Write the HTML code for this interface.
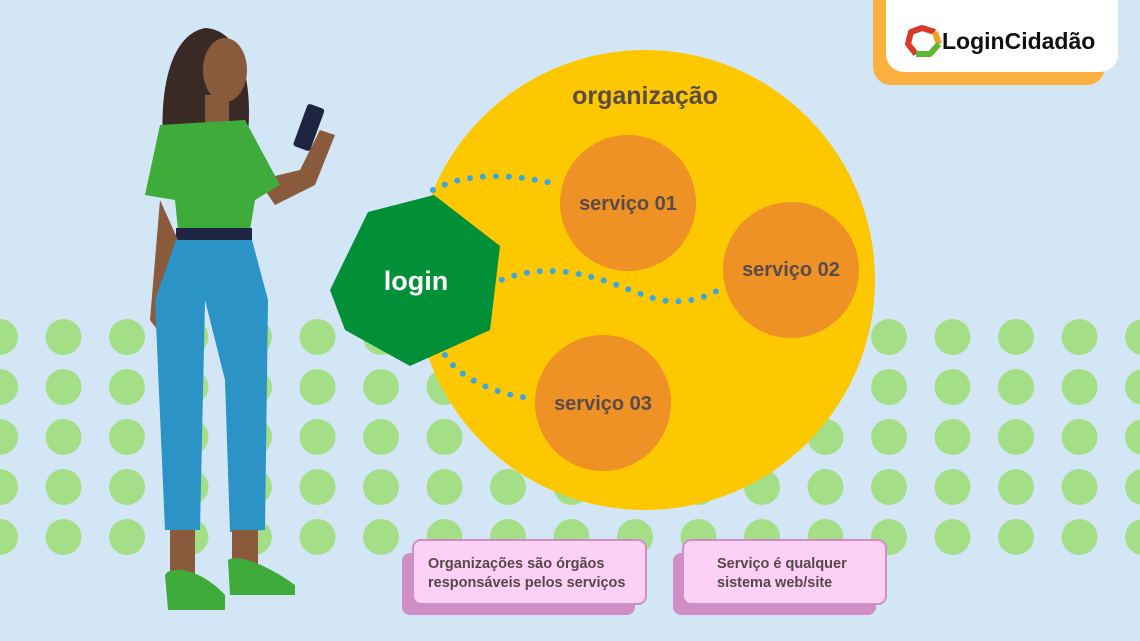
<!DOCTYPE html>
<html><head><meta charset="utf-8"><style>
body{margin:0;width:1140px;height:641px;overflow:hidden;background:#d3e6f6;font-family:"Liberation Sans",sans-serif}
svg{position:absolute;left:0;top:0}
</style></head><body>
<svg width="1140" height="641" viewBox="0 0 1140 641">
<defs><pattern id="d" x="-18" y="319" width="63.5" height="50" patternUnits="userSpaceOnUse"><circle cx="18" cy="18" r="18" fill="#a4df88"/></pattern></defs>
<rect x="0" y="319" width="1140" height="237" fill="url(#d)"/>
<circle cx="645" cy="280" r="230" fill="#fdc800"/>
<circle cx="628" cy="203" r="68" fill="#ef9226"/>
<circle cx="791" cy="270" r="68" fill="#ef9226"/>
<circle cx="603" cy="403" r="68" fill="#ef9226"/>
<g fill="none" stroke="#3aa7e0" stroke-width="6" stroke-linecap="round" stroke-dasharray="0 13">
<path d="M433 190 C470 170 520 175 560 185"/>
<path d="M490 285 C560 250 620 290 660 300 C690 305 710 295 722 288"/>
<path d="M445 355 C460 380 500 395 530 398"/>
</g>
<polygon points="330,290 368,212 434,195 500,246 490,330 410,366 345,330" fill="#018f37"/>
<g font-weight="bold" fill="#5a4a4a" font-size="20" text-anchor="middle">
<text x="645" y="104" font-size="25">organização</text>
<text x="628" y="210">serviço 01</text>
<text x="791" y="276">serviço 02</text>
<text x="603" y="410">serviço 03</text>
</g>
<text x="416" y="290" font-size="27" font-weight="bold" fill="#fff" text-anchor="middle">login</text>
<!-- logo -->
<rect x="873" y="-20" width="232" height="105" rx="18" fill="#fbb040"/>
<rect x="886" y="-20" width="232" height="92" rx="18" fill="#fff"/>
<g fill="none" stroke-width="6" stroke-linejoin="round">
<path d="M916 54 L908 44 L911 32 L922 28 L935 32" stroke="#d83a2a"/>
<path d="M935 32 L939 44" stroke="#f0a020"/>
<path d="M939 44 L930 54 L916 54" stroke="#5cb82e"/>
</g>
<text x="942" y="49" font-size="23" font-weight="bold" fill="#111">LoginCidadão</text>
<!-- boxes -->
<rect x="402" y="553" width="233" height="62" rx="8" fill="#cf8ec6"/>
<rect x="413" y="540" width="233" height="64" rx="8" fill="#fdd0f5" stroke="#cf8ec6" stroke-width="2"/>
<rect x="673" y="553" width="203" height="62" rx="8" fill="#cf8ec6"/>
<rect x="683" y="540" width="203" height="64" rx="8" fill="#fdd0f5" stroke="#cf8ec6" stroke-width="2"/>
<g font-size="14.5" font-weight="bold" fill="#554848">
<text x="428" y="568">Organizações são órgãos</text>
<text x="428" y="587">responsáveis pelos serviços</text>
<text x="717" y="568">Serviço é qualquer</text>
<text x="717" y="587">sistema web/site</text>
</g>
<!-- person -->
<g>
<path d="M205 28 C170 35 160 90 163 140 L248 135 C252 90 245 30 205 28Z" fill="#3a2a26"/>
<ellipse cx="225" cy="70" rx="22" ry="32" fill="#8a5a3c"/>
<rect x="205" y="95" width="24" height="30" fill="#8a5a3c"/>
<path d="M258 180 L300 170 L320 130 L335 135 L315 185 L275 205Z" fill="#8a5a3c"/>
<rect x="300" y="105" width="18" height="45" rx="3" transform="rotate(20 309 127)" fill="#1d2540"/>
<path d="M160 125 L245 120 L280 185 L255 200 L250 230 L178 230 L175 200 L145 195Z" fill="#3fab3b"/>
<rect x="176" y="228" width="76" height="14" fill="#1d2540"/>
<path d="M160 200 L150 320 L165 340 L178 240Z" fill="#8a5a3c"/>
<path d="M176 240 L252 240 L268 300 L265 530 L230 532 L225 380 L205 300 L200 530 L165 530 L155 300Z" fill="#2b93c6"/>
<path d="M170 530 L195 530 L195 575 L170 575Z M232 530 L258 530 L258 565 L232 565Z" fill="#8a5a3c"/>
<path d="M165 575 C170 565 200 568 225 595 L225 610 L168 610Z" fill="#3fab3b"/>
<path d="M228 560 C235 555 260 560 295 585 L295 595 L230 595Z" fill="#3fab3b"/>
</g>
</svg>
</body></html>
